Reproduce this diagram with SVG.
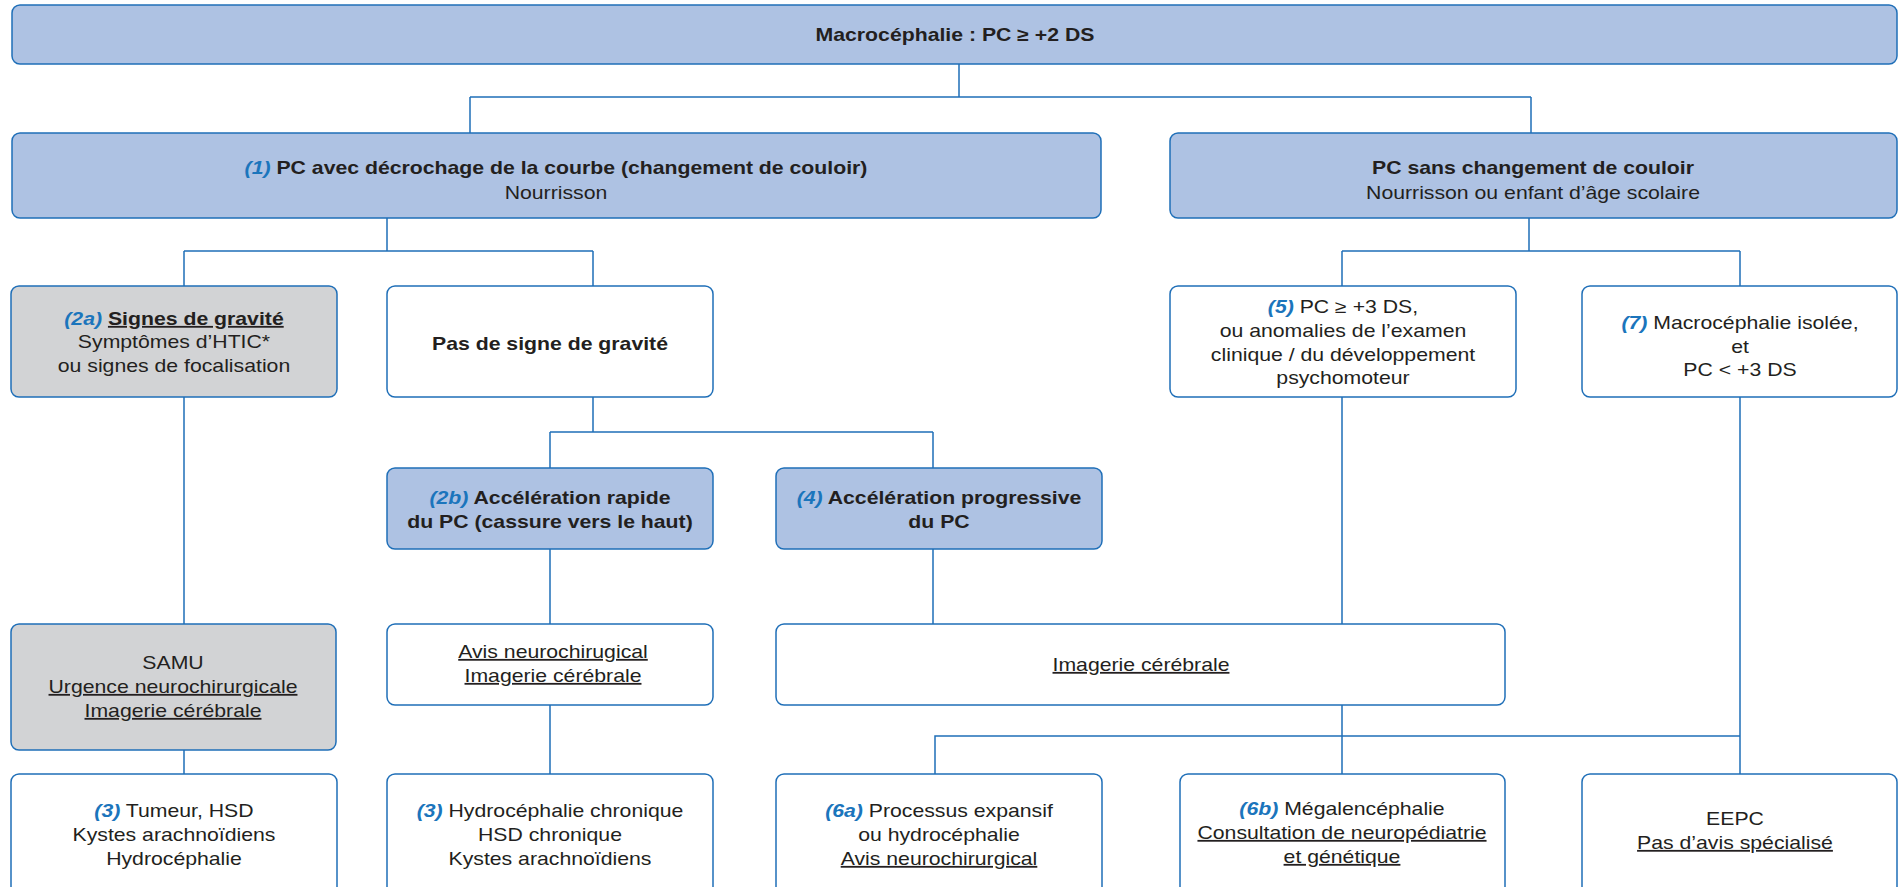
<svg xmlns="http://www.w3.org/2000/svg" width="1901" height="887" viewBox="0 0 1901 887">
<style>
.b{stroke:#1f6fb8;stroke-width:1.5}
.blue{fill:#aec2e3}
.gray{fill:#d2d3d5}
.white{fill:#ffffff}
text{font-family:"Liberation Sans",Arial,sans-serif;font-size:18px;fill:#231f20;text-anchor:middle}
.bd{font-weight:bold}
.n{font-weight:bold;font-style:italic;fill:#1b75bc}
.u{text-decoration:underline}
.c{stroke:#1f6fb8;stroke-width:1.5;fill:none}
</style>
<rect width="1901" height="887" fill="#ffffff"/>
<g id="connectors">
<path class="c" d="M959 64V97M470 97H1531M470 97V133M1531 97V133"/>
<path class="c" d="M387 218V251M184 251H593M184 251V286M593 251V286"/>
<path class="c" d="M1529 218V251M1342 251H1740M1342 251V286M1740 251V286"/>
<path class="c" d="M593 397V432M550 432H933M550 432V468M933 432V468"/>
<path class="c" d="M184 397V624M550 549V624M933 549V624M1342 397V624"/>
<path class="c" d="M184 750V774M550 705V774M1342 705V774"/>
<path class="c" d="M935 774V736H1740M1740 397V774"/>
</g>
<g id="n0"><rect class="b blue" x="12" y="5" width="1885" height="59" rx="8"/>
<g transform="matrix(1.18 0 0 1 -171.9 0)"><text x="955" y="41" class="bd">Macrocéphalie : PC ≥ +2 DS</text></g></g>
<g id="n1"><rect class="b blue" x="12" y="133" width="1089" height="85" rx="8"/>
<g transform="matrix(1.18 0 0 1 -100.08 0)"><text x="556" y="174"><tspan class="n">(1)</tspan><tspan class="bd"> PC avec décrochage de la courbe (changement de couloir)</tspan></text>
<text x="556" y="199">Nourrisson</text></g></g>
<g id="n1b"><rect class="b blue" x="1170" y="133" width="727" height="85" rx="8"/>
<g transform="matrix(1.18 0 0 1 -275.94 0)"><text x="1533" y="174" class="bd">PC sans changement de couloir</text>
<text x="1533" y="199">Nourrisson ou enfant d’âge scolaire</text></g></g>
<g id="n2a"><rect class="b gray" x="11" y="286" width="326" height="111" rx="8"/>
<g transform="matrix(1.18 0 0 1 -31.32 0)"><text x="174" y="325"><tspan class="n">(2a)</tspan> <tspan class="bd u">Signes de gravité</tspan></text>
<text x="174" y="348">Symptômes d’HTIC*</text>
<text x="174" y="372">ou signes de focalisation</text></g></g>
<g id="npas"><rect class="b white" x="387" y="286" width="326" height="111" rx="8"/>
<g transform="matrix(1.18 0 0 1 -99 0)"><text x="550" y="350" class="bd">Pas de signe de gravité</text></g></g>
<g id="n5"><rect class="b white" x="1170" y="286" width="346" height="111" rx="8"/>
<g transform="matrix(1.18 0 0 1 -241.74 0)"><text x="1343" y="313"><tspan class="n">(5)</tspan> PC ≥ +3 DS,</text>
<text x="1343" y="337">ou anomalies de l’examen</text>
<text x="1343" y="361">clinique / du développement</text>
<text x="1343" y="384">psychomoteur</text></g></g>
<g id="n7"><rect class="b white" x="1582" y="286" width="315" height="111" rx="8"/>
<g transform="matrix(1.18 0 0 1 -313.2 0)"><text x="1740" y="329"><tspan class="n">(7)</tspan> Macrocéphalie isolée,</text>
<text x="1740" y="353">et</text>
<text x="1740" y="376">PC &lt; +3 DS</text></g></g>
<g id="n2b"><rect class="b blue" x="387" y="468" width="326" height="81" rx="8"/>
<g transform="matrix(1.18 0 0 1 -99 0)"><text x="550" y="504"><tspan class="n">(2b)</tspan><tspan class="bd"> Accélération rapide</tspan></text>
<text x="550" y="528" class="bd">du PC (cassure vers le haut)</text></g></g>
<g id="n4"><rect class="b blue" x="776" y="468" width="326" height="81" rx="8"/>
<g transform="matrix(1.18 0 0 1 -169.02 0)"><text x="939" y="504"><tspan class="n">(4)</tspan><tspan class="bd"> Accélération progressive</tspan></text>
<text x="939" y="528" class="bd">du PC</text></g></g>
<g id="nsamu"><rect class="b gray" x="11" y="624" width="325" height="126" rx="8"/>
<g transform="matrix(1.18 0 0 1 -31.14 0)"><text x="173" y="669">SAMU</text>
<text x="173" y="693" class="u">Urgence neurochirurgicale</text>
<text x="173" y="717" class="u">Imagerie cérébrale</text></g></g>
<g id="navis"><rect class="b white" x="387" y="624" width="326" height="81" rx="8"/>
<g transform="matrix(1.18 0 0 1 -99.54 0)"><text x="553" y="658" class="u">Avis neurochirugical</text>
<text x="553" y="682" class="u">Imagerie cérébrale</text></g></g>
<g id="nimg"><rect class="b white" x="776" y="624" width="729" height="81" rx="8"/>
<g transform="matrix(1.18 0 0 1 -205.38 0)"><text x="1141" y="671" class="u">Imagerie cérébrale</text></g></g>
<g id="n3a"><rect class="b white" x="11" y="774" width="326" height="125" rx="8"/>
<g transform="matrix(1.18 0 0 1 -31.32 0)"><text x="174" y="817"><tspan class="n">(3)</tspan> Tumeur, HSD</text>
<text x="174" y="841">Kystes arachnoïdiens</text>
<text x="174" y="865">Hydrocéphalie</text></g></g>
<g id="n3b"><rect class="b white" x="387" y="774" width="326" height="125" rx="8"/>
<g transform="matrix(1.18 0 0 1 -99 0)"><text x="550" y="817"><tspan class="n">(3)</tspan> Hydrocéphalie chronique</text>
<text x="550" y="841">HSD chronique</text>
<text x="550" y="865">Kystes arachnoïdiens</text></g></g>
<g id="n6a"><rect class="b white" x="776" y="774" width="326" height="125" rx="8"/>
<g transform="matrix(1.18 0 0 1 -169.02 0)"><text x="939" y="817"><tspan class="n">(6a)</tspan> Processus expansif</text>
<text x="939" y="841">ou hydrocéphalie</text>
<text x="939" y="865" class="u">Avis neurochirurgical</text></g></g>
<g id="n6b"><rect class="b white" x="1180" y="774" width="325" height="125" rx="8"/>
<g transform="matrix(1.18 0 0 1 -241.56 0)"><text x="1342" y="815"><tspan class="n">(6b)</tspan> Mégalencéphalie</text>
<text x="1342" y="839" class="u">Consultation de neuropédiatrie</text>
<text x="1342" y="863" class="u">et génétique</text></g></g>
<g id="neepc"><rect class="b white" x="1582" y="774" width="315" height="125" rx="8"/>
<g transform="matrix(1.18 0 0 1 -312.3 0)"><text x="1735" y="825">EEPC</text>
<text x="1735" y="849" class="u">Pas d’avis spécialisé</text></g></g>
</svg>
